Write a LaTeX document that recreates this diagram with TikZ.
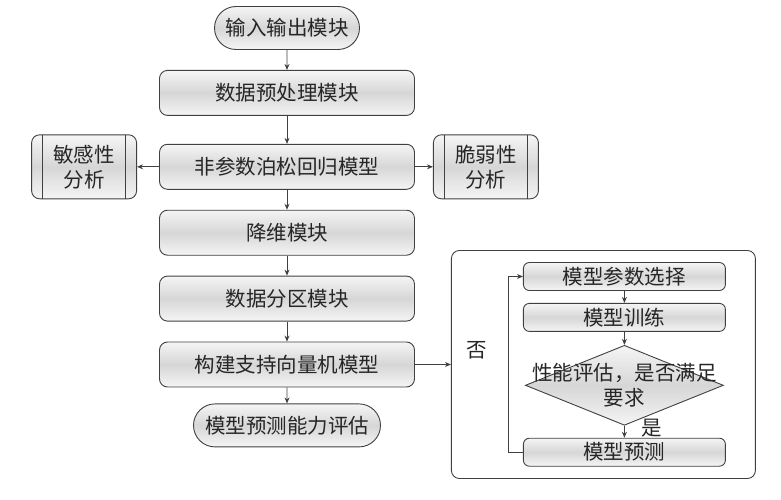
\documentclass[tikz,border=0pt]{standalone}
\usepackage{fontspec}
\setmainfont{Noto Sans CJK SC}
\usepackage{tikz}
\usetikzlibrary{positioning,arrows.meta,shapes.geometric,shapes.misc}
\colorlet{linecol}{black!75}
\colorlet{txtcol}{black!85}
\newcommand{\diagfont}{\fontsize{20.5pt}{25pt}\selectfont}
\tikzset{
  greyfill/.style={top color=gray!8, bottom color=gray!8, middle color=gray!32},
  module/.style={rectangle, rounded corners=8pt, draw=linecol, line width=0.9pt, greyfill,
                 minimum width=255pt, minimum height=45pt, inner sep=2pt, font=\diagfont, text=txtcol},
  terminal/.style={rounded rectangle, draw=linecol, line width=0.9pt, greyfill,
                   minimum height=43pt, inner sep=2pt, font=\diagfont, text=txtcol},
  sidebox/.style={rectangle, rounded corners=8pt, draw=linecol, line width=0.9pt, greyfill,
                  minimum width=105pt, minimum height=64pt, inner sep=2pt, align=center,
                  font=\diagfont, text=txtcol,
                  path picture={
                    \draw[linecol, line width=0.9pt]
                      ([xshift=11pt]path picture bounding box.north west) -- ([xshift=11pt]path picture bounding box.south west)
                      ([xshift=-11pt]path picture bounding box.north east) -- ([xshift=-11pt]path picture bounding box.south east);
                  }},
  substep/.style={rectangle, rounded corners=6pt, draw=linecol, line width=0.9pt, greyfill,
                  minimum width=202pt, minimum height=28pt, inner sep=1pt, font=\diagfont, text=txtcol},
  decision/.style={diamond, draw=linecol, line width=0.9pt, greyfill, inner sep=0pt,
                   minimum width=198pt, minimum height=80pt},
  panel/.style={rectangle, rounded corners=8pt, draw=linecol, line width=0.9pt,
                minimum width=304pt, minimum height=228pt},
  lbl/.style={font=\diagfont, text=txtcol, inner sep=1pt},
  arr/.style={-{Stealth[length=6pt,width=5pt]}, draw=linecol, line width=0.9pt},
}
\begin{document}
\begin{tikzpicture}[x=1pt, y=1pt]
  \useasboundingbox (0,0) rectangle (781,-500);

  % main column
  \node[terminal, minimum width=149pt] (io) at (287,-28) {输入输出模块};
  \node[module] (prep) [below=20pt of io] {数据预处理模块};
  \node[module] (poisson) [below=28pt of prep] {非参数泊松回归模型};
  \node[module] (reduce) [below=20pt of poisson] {降维模块};
  \node[module] (part) [below=20pt of reduce] {数据分区模块};
  \node[module] (svm) [below=20pt of part] {构建支持向量机模型};
  \node[terminal, minimum width=191pt] (assess) [below=16pt of svm] {模型预测能力评估};

  % side analyses
  \node[sidebox] (sens) [left=22pt of poisson] {敏感性\\分析};
  \node[sidebox] (frag) [right=18pt of poisson] {脆弱性\\分析};

  % tuning loop
  \node[panel] (loop) [right=36pt of svm] {};
  \node[substep] (param) [below right=12pt and 72pt of loop.north west] {模型参数选择};
  \node[substep] (train) [below=12pt of param] {模型训练};
  \node[decision, label={[lbl, align=center]center:{性能评估，是否满足\\要求}}] (perf) [below=13pt of train] {};
  \node[substep] (pred) [below=12pt of perf] {模型预测};

  \draw[arr] (io) -- (prep);
  \draw[arr] (prep) -- (poisson);
  \draw[arr] (poisson) -- (reduce);
  \draw[arr] (reduce) -- (part);
  \draw[arr] (part) -- (svm);
  \draw[arr] (svm) -- (assess);
  \draw[arr] (poisson) -- (sens);
  \draw[arr] (poisson) -- (frag);
  \draw[arr] (svm) -- (loop);

  \draw[arr] (param) -- (train);
  \draw[arr] (train) -- (perf);
  \draw[arr] (perf) -- (pred) node[lbl, midway, right=16pt, yshift=4pt] {是};
  \draw[arr] (pred.west) -- ++(-15,0) |- (param.west) node[lbl, pos=0.29, left=20pt] {否};
\end{tikzpicture}
\end{document}
